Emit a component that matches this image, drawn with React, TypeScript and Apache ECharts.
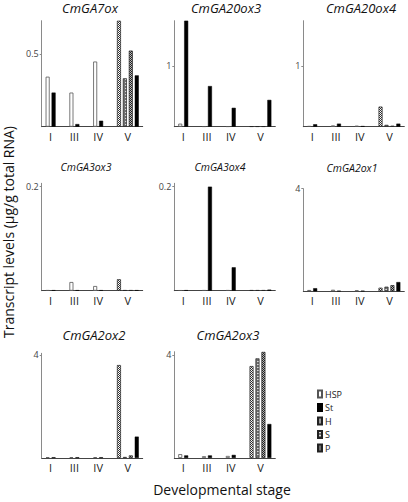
import React, { useEffect, useRef } from 'react';
import * as echarts from 'echarts';

const genes = ['CmGA7ox', 'CmGA20ox3', 'CmGA20ox4', 'CmGA3ox3', 'CmGA3ox4', 'CmGA2ox1', 'CmGA2ox2', 'CmGA2ox3'];
const stageLabels = ['I', 'III', 'IV', 'V'];
const legendNames = ['HSP', 'St', 'H', 'S', 'P'];
// HSP at stages I, III, IV
const hspValues = [
  [0.343, 0.234, 0.447],
  [0.05, 0.005, 0.005],
  [0.01, 0.02, 0.015],
  [0.001, 0.0167, 0.009],
  [0.0008, 0.001, 0.001],
  [0.05, 0.06, 0.04],
  [0.03, 0.03, 0.03],
  [0.15, 0.07, 0.08],
];
// St at stages I, III, IV, V
const stValues = [
  [0.234, 0.018, 0.041, 0.352],
  [1.74, 0.667, 0.31, 0.44],
  [0.04, 0.05, 0.01, 0.05],
  [0.001, 0.001, 0.001, 0.001],
  [0.001, 0.2, 0.045, 0.002],
  [0.12, 0.02, 0.02, 0.36],
  [0.03, 0.03, 0.03, 0.83],
  [0.1, 0.1, 0.12, 1.32],
];
// H, S, P at stage V
const hValues = [0.727, 0.005, 0.33, 0.022, 0.001, 0.14, 3.61, 3.57];
const sValues = [0.332, 0.005, 0.03, 0.001, 0.001, 0.18, 0.04, 3.87];
const pValues = [0.522, 0.005, 0.015, 0.001, 0.001, 0.24, 0.1, 4.12];
const yMax = [0.727, 1.74, 1.74, 0.2065, 0.2065, 4, 4.066, 4.128];
const yTickValue = [0.5, 1, 1, 0.2, 0.2, 4, 4, 4];

// positions of bars along the stage axis (slot units)
const hspSlots = [1, 5, 9];
const stSlots = [2, 6, 10, 16];
const hSlot = 13;
const sSlot = 14;
const pSlot = 15;
const stageSlots = [1.5, 5.5, 9.5, 14.5];
const X_MAX = 17;

const grids = [
  { left: 41.7, top: 20.7, width: 101, height: 106 },
  { left: 174.3, top: 20.7, width: 101, height: 106 },
  { left: 303.3, top: 20.7, width: 101, height: 106 },
  { left: 41.7, top: 183.3, width: 101, height: 107.4 },
  { left: 174.3, top: 183.3, width: 101, height: 107.4 },
  { left: 303.3, top: 188.7, width: 101, height: 102.6 },
  { left: 41.7, top: 353.3, width: 101, height: 104.7 },
  { left: 174.3, top: 351.7, width: 101, height: 106.3 },
];
const titlePos = [
  { x: 90, y: 8, size: 13 },
  { x: 226, y: 8, size: 13 },
  { x: 361, y: 8, size: 13 },
  { x: 86, y: 166.5, size: 10.5 },
  { x: 220, y: 166.5, size: 10.5 },
  { x: 352, y: 168, size: 10.5 },
  { x: 94, y: 335, size: 13 },
  { x: 228, y: 335, size: 13 },
];

const FONT = '"Open Sans", "Noto Sans", sans-serif';

function makePattern(w: number, h: number, bg: string, fg: string, pts: number[][]) {
  const c = document.createElement('canvas');
  c.width = w;
  c.height = h;
  const ctx = c.getContext('2d')!;
  ctx.fillStyle = bg;
  ctx.fillRect(0, 0, w, h);
  ctx.fillStyle = fg;
  pts.forEach(([x, y]) => ctx.fillRect(x, y, 1, 1));
  return c;
}

export default function App() {
  const ref = useRef<HTMLDivElement>(null);
  useEffect(() => {
    if (!ref.current) return;
    const chart = echarts.init(ref.current, undefined, { renderer: 'svg' });

    const hPat = { image: makePattern(2, 2, '#ffffff', '#333333', [[0, 0], [1, 1]]), repeat: 'repeat' };
    const sPat = { image: makePattern(4, 3, '#707070', '#d8d8d8', [[1, 1], [2, 1]]), repeat: 'repeat' };
    const pPat = { image: makePattern(2, 2, '#b8b8b8', '#222222', [[0, 0], [1, 1]]), repeat: 'repeat' };

    const styles: Record<string, any> = {
      HSP: { color: '#ffffff', borderColor: '#555', borderWidth: 0.8 },
      St: { color: '#000000', borderColor: '#000', borderWidth: 0.5 },
      H: { color: hPat, borderColor: '#222', borderWidth: 0.7 },
      S: { color: sPat, borderColor: '#222', borderWidth: 0.7 },
      P: { color: pPat, borderColor: '#222', borderWidth: 0.7 },
    };

    const xAxis: any[] = [];
    const yAxis: any[] = [];
    const series: any[] = [];
    const graphic: any[] = [];

    genes.forEach((g, i) => {
      xAxis.push({
        type: 'value',
        gridIndex: i,
        min: 0,
        max: X_MAX,
        axisLine: { show: true, lineStyle: { color: '#444', width: 1 } },
        axisTick: { show: false },
        splitLine: { show: false },
        axisLabel: {
          customValues: stageSlots,
          formatter: (v: number) => {
            let best = 0;
            stageSlots.forEach((s, k) => {
              if (Math.abs(s - v) < Math.abs(stageSlots[best] - v)) best = k;
            });
            return stageLabels[best];
          },
          fontSize: 11,
          color: '#222',
          fontFamily: FONT,
          margin: 4,
        },
      });
      yAxis.push({
        type: 'value',
        gridIndex: i,
        min: 0,
        max: yMax[i],
        axisLine: { show: true, lineStyle: { color: '#8a8a8a', width: 1 } },
        axisTick: { show: true, length: 2, customValues: [yTickValue[i]], lineStyle: { color: '#8a8a8a' } },
        splitLine: { show: false },
        axisLabel: {
          customValues: [yTickValue[i]],
          fontSize: 9,
          color: '#444',
          fontFamily: FONT,
          margin: 3,
        },
      });
      const common = {
        type: 'bar',
        xAxisIndex: i,
        yAxisIndex: i,
        barWidth: 4,
        barGap: '-100%',
        silent: true,
      };
      series.push({
        ...common,
        name: 'HSP',
        itemStyle: styles.HSP,
        data: hspValues[i].map((v, k) => [hspSlots[k], v]),
      });
      series.push({
        ...common,
        name: 'St',
        itemStyle: styles.St,
        data: stValues[i].map((v, k) => [stSlots[k], v]),
      });
      series.push({ ...common, name: 'H', itemStyle: styles.H, data: [[hSlot, hValues[i]]] });
      series.push({ ...common, name: 'S', itemStyle: styles.S, data: [[sSlot, sValues[i]]] });
      series.push({ ...common, name: 'P', itemStyle: styles.P, data: [[pSlot, pValues[i]]] });

      graphic.push({
        type: 'text',
        x: titlePos[i].x,
        y: titlePos[i].y,
        style: {
          text: g,
          fontSize: titlePos[i].size,
          fontStyle: 'italic',
          fontFamily: FONT,
          fill: '#111',
          align: 'center',
          verticalAlign: 'middle',
        },
      });
    });

    graphic.push({
      type: 'text',
      x: 8,
      y: 232,
      rotation: Math.PI / 2,
      style: {
        text: 'Transcript levels (μg/g total RNA)',
        fontSize: 14,
        fontFamily: FONT,
        fill: '#111',
        align: 'center',
        verticalAlign: 'middle',
      },
    });
    graphic.push({
      type: 'text',
      x: 222,
      y: 489,
      style: {
        text: 'Developmental stage',
        fontSize: 14,
        fontFamily: FONT,
        fill: '#111',
        align: 'center',
        verticalAlign: 'middle',
      },
    });

    chart.setOption({
      animation: false,
      backgroundColor: '#ffffff',
      grid: grids.map((g) => ({ ...g, containLabel: false })),
      xAxis,
      yAxis,
      series,
      graphic,
      legend: {
        data: legendNames.map((n) => ({ name: n, icon: 'rect' })),
        orient: 'vertical',
        left: 317,
        top: 389,
        itemWidth: 4,
        itemHeight: 7,
        itemGap: 3.5,
        padding: 0,
        selectedMode: false,
        textStyle: { fontSize: 9, lineHeight: 10, color: '#222', fontFamily: FONT, padding: [0, 0, 0, -2] },
      },
    });
    return () => chart.dispose();
  }, []);
  return (
    <div
      ref={ref}
      style={{ position: 'fixed', left: 0, top: 0, width: 408, height: 502, background: '#fff' }}
    />
  );
}
